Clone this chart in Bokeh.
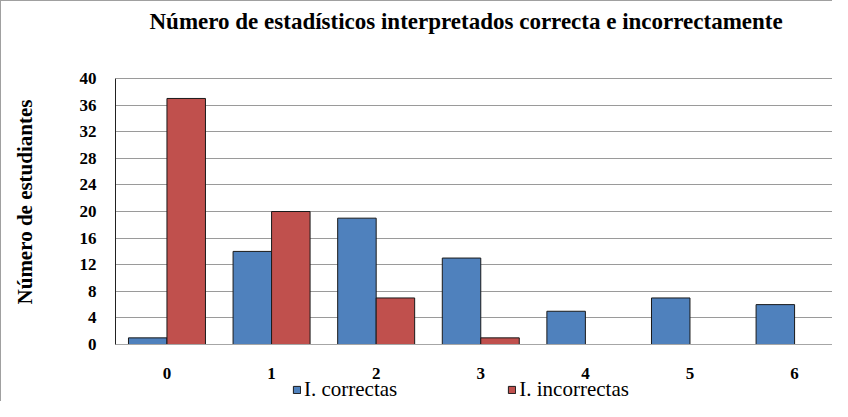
from bokeh.plotting import figure
from bokeh.models import Legend, LegendItem, FixedTicker, Range1d, ColumnDataSource, Label
from bokeh.embed import file_html
from bokeh.resources import INLINE

categories = ["0", "1", "2", "3", "4", "5", "6"]
cat_pos = [0, 1, 2, 3, 4, 5, 6]
correctas = [1, 14, 19, 13, 5, 7, 6]
incorrectas = [37, 20, 7, 1, 0, 0, 0]
y_ticks = [0, 4, 8, 12, 16, 20, 24, 28, 32, 36, 40]

title_text = "Número de estadísticos interpretados correcta e incorrectamente"
y_label = "Número de estudiantes"
series_names = ["I. correctas", "I. incorrectas"]

BLUE = "#4F81BD"
RED = "#C0504D"
SERIF = "Liberation Serif"

bar_w = 0.368

p = figure(width=832, height=401, output_backend="svg", toolbar_location=None,
           x_range=Range1d(-0.492, 6.372), y_range=Range1d(-8.72, 51.58),
           min_border_left=114, min_border_right=0, min_border_top=0,
           min_border_bottom=0, background_fill_color="white",
           border_fill_color="white", outline_line_color=None,
           styles={"border-left": "1px solid #a0a0a0", "border-top": "1px solid #a0a0a0"})

title = Label(x=34, y=381, x_units="screen", y_units="screen", text=title_text,
              text_font=SERIF, text_font_style="bold", text_font_size="23px",
              text_color="black", text_align="left", text_baseline="middle")
p.add_layout(title)

src_c = ColumnDataSource(dict(x=[c - bar_w / 2 for c, v in zip(cat_pos, correctas) if v > 0],
                              top=[v for v in correctas if v > 0]))
src_i = ColumnDataSource(dict(x=[c + bar_w / 2 for c, v in zip(cat_pos, incorrectas) if v > 0],
                              top=[v for v in incorrectas if v > 0]))

r1 = p.vbar(x="x", top="top", bottom=0, width=bar_w, source=src_c,
            fill_color=BLUE, line_color="#1a1a1a", line_width=1)
r2 = p.vbar(x="x", top="top", bottom=0, width=bar_w, source=src_i,
            fill_color=RED, line_color="#1a1a1a", line_width=1)

p.xgrid.visible = False
p.ygrid.grid_line_color = "#9a9a9a"
p.ygrid.grid_line_width = 1

p.xaxis.ticker = FixedTicker(ticks=cat_pos)
p.xaxis.major_label_overrides = {c: l for c, l in zip(cat_pos, categories)}
p.xaxis.fixed_location = 0
p.yaxis.ticker = FixedTicker(ticks=y_ticks)
p.yaxis.bounds = (0, 40)

for ax in (p.xaxis, p.yaxis):
    ax.major_tick_line_color = None
    ax.minor_tick_line_color = None
    ax.major_label_text_font = SERIF
    ax.major_label_text_font_style = "bold"
    ax.major_label_text_font_size = "17px"
    ax.major_label_text_color = "black"

p.xaxis.axis_line_color = "#a6a6a6"
p.xaxis.major_label_standoff = 17
p.yaxis.axis_line_color = "#222222"
p.yaxis.major_label_standoff = 13
p.yaxis.axis_label = y_label
p.yaxis.axis_label_text_font = SERIF
p.yaxis.axis_label_text_font_style = "bold"
p.yaxis.axis_label_text_font_size = "21px"
p.yaxis.axis_label_text_color = "black"
p.yaxis.axis_label_standoff = 40

legend = Legend(items=[LegendItem(label=series_names[0], renderers=[r1]),
                       LegendItem(label=series_names[1], renderers=[r2])],
                orientation="horizontal", location=(177, 0),
                glyph_width=9, glyph_height=9, label_standoff=3, spacing=110,
                label_text_font=SERIF, label_text_font_size="21px",
                label_text_color="black",
                border_line_color=None, background_fill_alpha=0,
                padding=2, margin=0)
p.add_layout(legend, "center")

open("out.html", "w").write(file_html(p, INLINE))
